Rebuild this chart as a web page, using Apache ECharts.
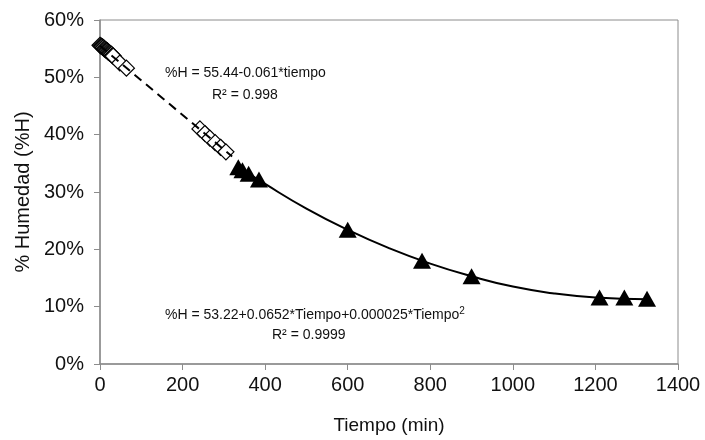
<!DOCTYPE html>
<html>
<head>
<meta charset="utf-8">
<script src="https://cdn.jsdelivr.net/npm/echarts@6/dist/echarts.min.js"></script>
<style>html,body{margin:0;padding:0;background:#fff}#c{width:705px;height:440px}</style>
</head>
<body>
<div id="c"></div>
<script>
// Phase 1 (diamonds, linear fit)
var diamondT = [0, 2, 4, 6, 8, 10, 12, 14, 16, 18, 20, 22, 24, 26, 28, 30, 32, 48, 64, 242, 254, 266, 279, 292, 305];
var diamondH = [55.6, 55.5, 55.4, 55.3, 55.2, 55.0, 54.9, 54.8, 54.7, 54.6, 54.4, 54.3, 54.2, 54.1, 54.0, 53.8, 53.7, 52.5, 51.6, 41.0, 40.2, 39.4, 38.6, 37.8, 37.0];
// Phase 2 (triangles, quadratic fit)
var triT = [335, 345, 360, 385, 600, 780, 900, 1210, 1270, 1325];
var triH = [34.3, 33.8, 33.2, 32.2, 23.4, 18.0, 15.3, 11.6, 11.6, 11.4];
// Linear trendline
var linT = [0, 320];
var linH = [55.5, 36.2];
// Polynomial trendline
var polyT = [330, 400, 500, 600, 700, 800, 900, 1000, 1100, 1200, 1325];
var polyH = [34.6, 31.4, 27.1, 23.4, 20.2, 17.5, 15.3, 13.5, 12.3, 11.6, 11.3];
// Axis ticks
var xTicks = [0, 200, 400, 600, 800, 1000, 1200, 1400];
var yTicks = [0, 10, 20, 30, 40, 50, 60];

function pairs(a, b) { return a.map(function (v, i) { return [v, b[i]]; }); }

var font = 'Liberation Sans, Arial, sans-serif';
var txt = '#111';
var chart = echarts.init(document.getElementById('c'));
chart.setOption({
  animation: false,
  backgroundColor: '#fff',
  grid: { left: 100, right: 27, top: 20, bottom: 72, show: true, borderColor: '#8c8c8c', borderWidth: 1, containLabel: false },
  xAxis: {
    type: 'value', min: xTicks[0], max: xTicks[xTicks.length - 1], interval: 200,
    name: 'Tiempo (min)', nameLocation: 'middle', nameGap: 52,
    nameTextStyle: { fontFamily: font, fontSize: 19, color: txt },
    axisLine: { show: true, lineStyle: { color: '#8c8c8c', width: 1.5 } },
    axisTick: { show: true, inside: false, length: 6, lineStyle: { color: '#8c8c8c' } },
    axisLabel: { fontFamily: font, fontSize: 20, color: txt, margin: 11, formatter: function (v) { return String(v); } },
    splitLine: { show: false }
  },
  yAxis: {
    type: 'value', min: yTicks[0], max: yTicks[yTicks.length - 1], interval: 10,
    name: '% Humedad (%H)', nameLocation: 'middle', nameGap: 66,
    nameTextStyle: { fontFamily: font, fontSize: 20, color: txt },
    axisLine: { show: true, lineStyle: { color: '#8c8c8c', width: 1.5 } },
    axisTick: { show: true, inside: false, length: 6, lineStyle: { color: '#8c8c8c' } },
    axisLabel: { fontFamily: font, fontSize: 20, color: txt, margin: 16, formatter: '{value}%' },
    splitLine: { show: false }
  },
  series: [
    {
      type: 'scatter', data: pairs(diamondT, diamondH), symbol: 'diamond', symbolSize: 16,
      itemStyle: { color: '#fff', borderColor: '#000', borderWidth: 1.2, opacity: 1 }, z: 2
    },
    {
      type: 'scatter', data: pairs(triT, triH), symbol: 'triangle', symbolSize: [18, 16],
      itemStyle: { color: '#000', opacity: 1 }, z: 2
    },
    {
      type: 'line', data: pairs(linT, linH), symbol: 'none',
      lineStyle: { color: '#000', width: 2, type: [9, 6] }, z: 3
    },
    {
      type: 'line', data: pairs(polyT, polyH), symbol: 'none', smooth: true,
      lineStyle: { color: '#000', width: 2 }, z: 3
    }
  ],
  graphic: [
    { type: 'text', left: 165, top: 66, style: { text: '%H = 55.44-0.061*tiempo', font: '14px ' + font, fill: txt } },
    { type: 'text', left: 212, top: 88, style: { text: 'R² = 0.998', font: '14px ' + font, fill: txt } },
    { type: 'text', left: 165, top: 306, style: {
        text: '{a|%H = 53.22+0.0652*Tiempo+0.000025*Tiempo}{s|2}',
        rich: { a: { font: '14px ' + font, fill: txt, color: txt }, s: { font: '10px ' + font, fill: txt, color: txt, verticalAlign: 'top', padding: [0, 0, 8, 0] } } } },
    { type: 'text', left: 272, top: 328, style: { text: 'R² = 0.9999', font: '14px ' + font, fill: txt } }
  ]
});
</script>
</body>
</html>
